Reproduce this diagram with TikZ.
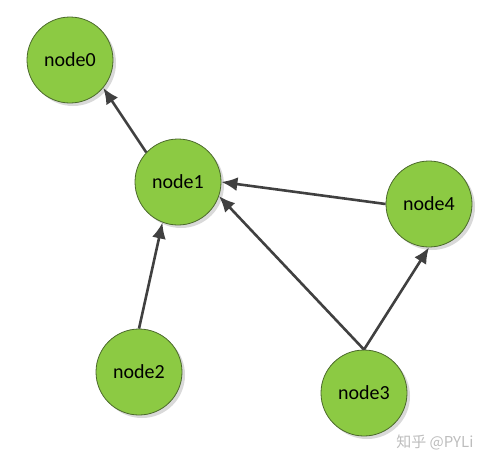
\documentclass[tikz,border=0pt]{standalone}
\usepackage{fontspec}
\setmainfont{Carlito}
\newfontfamily\cjkfont{Noto Sans CJK SC}
\usepackage{tikz}
\usetikzlibrary{arrows.meta,shadows}
\definecolor{GraphGreen}{HTML}{8CCA43}
\definecolor{GraphEdge}{HTML}{404040}
\definecolor{GraphRim}{HTML}{4C6A2C}
\definecolor{MarkGray}{HTML}{BDBDBD}

\begin{document}
\begin{tikzpicture}[x=1pt,y=-1pt,
  vertex/.style={circle,draw=GraphRim,line width=.8pt,fill=GraphGreen,minimum size=86pt,inner sep=0pt,
    font=\fontsize{20}{24}\selectfont,
    drop shadow={shadow xshift=3pt,shadow yshift=-3pt,fill=black!25,opacity=.6}},
  link/.style={-{Latex[length=16pt,width=14pt]},GraphEdge,line width=2.6pt}]
  \useasboundingbox (0,0) rectangle (488,464);
  \node[vertex] (n0) at (70,60) {node0};
  \node[vertex] (n1) at (178,182) {node1};
  \node[vertex] (n2) at (139,372) {node2};
  \node[vertex] (n3) at (364,393) {node3};
  \node[vertex] (n4) at (429,204) {node4};
  \draw[link] (n1.137) -- (n0.-40);
  \draw[link] (n2.north) -- (n1.-111);
  \draw[link] (n4.west) -- (n1.east);
  \draw[link] (n3.north) -- (n1.-19);
  \draw[link] (n3.north) -- (n4.south);
  \node[text=MarkGray,font=\cjkfont\fontsize{15}{18}\selectfont,anchor=east] (mark) at (477,442) {知乎 @PYLi};
\end{tikzpicture}
\end{document}
